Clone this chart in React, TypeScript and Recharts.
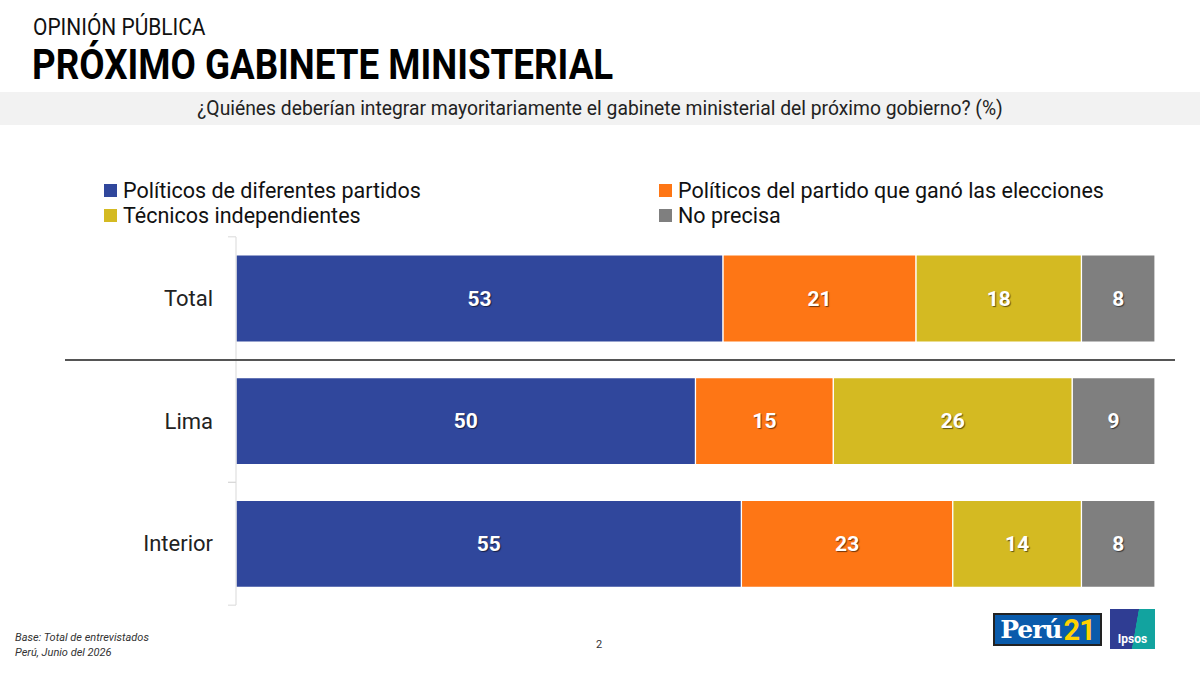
import React from 'react';
import { BarChart, Bar, XAxis, YAxis, LabelList } from 'recharts';

// categories and series
const regions = ['Total', 'Lima', 'Interior'];
const politicosDiferentes = [53, 50, 55];
const politicosGanador = [21, 15, 23];
const tecnicos = [18, 26, 14];
const noPrecisa = [8, 9, 8];

const seriesNames = [
  'Políticos de diferentes partidos',
  'Políticos del partido que ganó las elecciones',
  'Técnicos independientes',
  'No precisa',
];
const seriesKeys = ['dif', 'gan', 'tec', 'np'];
const seriesColors = ['#30479c', '#fe7615', '#d4ba22', '#7f7f7f'];

const chartData = regions.map((r, i) => ({
  region: r,
  dif: politicosDiferentes[i],
  gan: politicosGanador[i],
  tec: tecnicos[i],
  np: noPrecisa[i],
}));

const FONT = 'Roboto, "Noto Sans", sans-serif';

// white value label with a small drop shadow
const ValueLabel = (props: any) => {
  const { x, y, width, height, value } = props;
  return (
    <text
      x={x + width / 2}
      y={y + height / 2}
      textAnchor="middle"
      dominantBaseline="central"
      fill="#fff"
      fontSize={21}
      fontWeight={700}
      fontFamily={FONT}
      style={{ textShadow: '1px 1px 1px rgba(0,0,0,0.55)' }}
    >
      {value}
    </text>
  );
};

const RegionTick = (props: any) => {
  const { x, y, payload } = props;
  return (
    <g>
      <text x={x - 15} y={y} textAnchor="end" dominantBaseline="central" fill="#222" fontSize={22} fontFamily={FONT}>
        {payload.value}
      </text>
      <line x1={x} x2={x + 8} y1={y - 61.5} y2={y - 61.5} stroke="#d9d9d9" />
      <line x1={x} x2={x + 8} y1={y + 61.5} y2={y + 61.5} stroke="#d9d9d9" />
    </g>
  );
};

export default function App() {
  return (
    <div style={{ position: 'absolute', left: 0, top: 0, width: 1200, height: 675, background: '#fff', overflow: 'hidden', fontFamily: FONT }}>
      <div style={{ position: 'absolute', left: 33, top: 16, fontSize: 23, lineHeight: '24px', color: '#111', transform: 'scaleX(0.91)', transformOrigin: 'left top', whiteSpace: 'nowrap' }}>
        OPINIÓN PÚBLICA
      </div>
      <div style={{ position: 'absolute', left: 32, top: 44, fontSize: 42, lineHeight: '42px', fontWeight: 700, color: '#000', transform: 'scaleX(0.875)', transformOrigin: 'left top', whiteSpace: 'nowrap' }}>
        PRÓXIMO GABINETE MINISTERIAL
      </div>
      <div style={{ position: 'absolute', left: 0, top: 92, width: 1200, height: 33, background: '#f2f2f2' }} />
      <div style={{ position: 'absolute', left: 0, top: 97, width: 1200, textAlign: 'center', fontSize: 19.3, color: '#222' }}>
        ¿Quiénes deberían integrar mayoritariamente el gabinete ministerial del próximo gobierno? (%)
      </div>

      {/* legend */}
      <div style={{ position: 'absolute', left: 104, top: 178, width: 1100, display: 'grid', gridTemplateColumns: '555px 500px', rowGap: 0 }}>
        {[0, 1, 2, 3].map((i) => (
          <div key={i} style={{ display: 'flex', alignItems: 'center', height: 25, fontSize: 21.5, color: '#111' }}>
            <span style={{ width: 13, height: 13, background: seriesColors[i], marginRight: 6, display: 'inline-block' }} />
            {seriesNames[i]}
          </div>
        ))}
      </div>

      <div style={{ position: 'absolute', left: 0, top: 0 }}>
        <BarChart
          width={1200}
          height={675}
          data={chartData}
          layout="vertical"
          margin={{ top: 237, right: 45, bottom: 70, left: 0 }}
          barCategoryGap={18}
        >
          <XAxis type="number" domain={[0, 100]} hide />
          <YAxis
            type="category"
            dataKey="region"
            width={236}
            axisLine={{ stroke: '#d9d9d9' }}
            tickLine={false}
            tick={<RegionTick />}
          />
          {seriesKeys.map((k, i) => (
            <Bar key={k} dataKey={k} stackId="a" fill={seriesColors[i]} stroke="#fff" strokeWidth={1.2} isAnimationActive={false}>
              <LabelList dataKey={k} content={<ValueLabel />} />
            </Bar>
          ))}
        </BarChart>
      </div>

      {/* separator between Total and regions */}
      <div style={{ position: 'absolute', left: 65, top: 359, width: 1110, height: 2, background: '#555' }} />

      {/* footer */}
      <div style={{ position: 'absolute', left: 15, top: 630, fontSize: 11, fontStyle: 'italic', color: '#333', lineHeight: '15px' }}>
        Base: Total de entrevistados
        <br />
        Perú, Junio del 2026
      </div>
      <div style={{ position: 'absolute', left: 596, top: 638, fontSize: 11, color: '#333' }}>2</div>

      {/* logos */}
      <div style={{ position: 'absolute', left: 993, top: 613, width: 105, height: 29, background: '#0a5bab', border: '2px solid #222', display: 'flex', alignItems: 'center', justifyContent: 'center', fontWeight: 700 }}>
        <span style={{ color: '#fff', fontFamily: '"DejaVu Serif", serif', fontSize: 25, letterSpacing: -1 }}>Perú</span>
        <span style={{ color: '#ffd200', fontFamily: FONT, fontSize: 29, marginLeft: 2, letterSpacing: -1 }}>21</span>
      </div>
      <div style={{ position: 'absolute', left: 1110, top: 609, width: 45, height: 40, background: 'linear-gradient(100deg, #2f3d93 0%, #2f3d93 55%, #12a39f 56%, #12a39f 100%)', display: 'flex', alignItems: 'flex-end', justifyContent: 'center' }}>
        <span style={{ color: '#fff', fontSize: 12, fontWeight: 700, marginBottom: 3 }}>Ipsos</span>
      </div>
    </div>
  );
}
